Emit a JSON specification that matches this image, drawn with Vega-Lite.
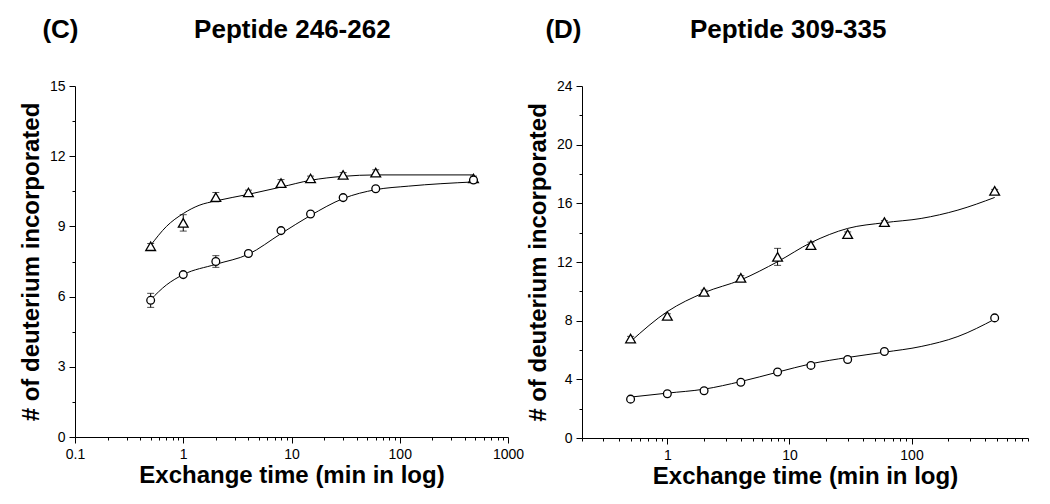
{
 "$schema": "https://vega.github.io/schema/vega-lite/v6.json",
 "padding": {"left": 19, "top": 17, "right": 5, "bottom": 5},
 "autosize": {"type": "pad"},
 "background": "white",
 "config": {
  "font": "Liberation Sans",
  "view": {"stroke": null},
  "axis": {"domainColor": "black", "tickColor": "black", "labelColor": "black", "titleColor": "black", "labelFont": "Liberation Sans", "titleFont": "Liberation Sans", "labelFontSize": 14, "titleFontSize": 24, "titleFontWeight": "bold", "grid": false, "labelPadding": 4, "tickWidth": 1, "domainWidth": 1, "labelOverlap": false, "labelFlush": false},
  "title": {"font": "Liberation Sans", "fontSize": 26, "fontWeight": "bold", "color": "black", "anchor": "start", "frame": "bounds", "baseline": "alphabetic", "offset": 36}
 },
 "spacing": 2,
 "datasets": {
  "c_pts": [
   {"t": 0.5, "d": 8.15, "err": 0.12, "s": "A"},
   {"t": 1, "d": 9.15, "err": 0.35, "s": "A"},
   {"t": 2, "d": 10.25, "err": 0.2, "s": "A"},
   {"t": 4, "d": 10.45, "err": 0.1, "s": "A"},
   {"t": 8, "d": 10.85, "err": 0.15, "s": "A"},
   {"t": 15, "d": 11.05, "err": 0.1, "s": "A"},
   {"t": 30, "d": 11.2, "err": 0.1, "s": "A"},
   {"t": 60, "d": 11.3, "err": 0.12, "s": "A"},
   {"t": 480, "d": 11.05, "err": 0.1, "s": "A"},
   {"t": 0.5, "d": 5.84, "err": 0.3, "s": "B"},
   {"t": 1, "d": 6.94, "err": 0.08, "s": "B"},
   {"t": 2, "d": 7.5, "err": 0.25, "s": "B"},
   {"t": 4, "d": 7.84, "err": 0.08, "s": "B"},
   {"t": 8, "d": 8.82, "err": 0.08, "s": "B"},
   {"t": 15, "d": 9.53, "err": 0.08, "s": "B"},
   {"t": 30, "d": 10.23, "err": 0.08, "s": "B"},
   {"t": 60, "d": 10.61, "err": 0.08, "s": "B"},
   {"t": 480, "d": 10.98, "err": 0.1, "s": "B"}
  ],
  "c_fit": [
   {"t": 0.5, "d": 8.19, "s": "A"},
   {"t": 0.7, "d": 9.0, "s": "A"},
   {"t": 1, "d": 9.55, "s": "A"},
   {"t": 1.4, "d": 9.9, "s": "A"},
   {"t": 2, "d": 10.09, "s": "A"},
   {"t": 4, "d": 10.37, "s": "A"},
   {"t": 8, "d": 10.68, "s": "A"},
   {"t": 15, "d": 10.97, "s": "A"},
   {"t": 30, "d": 11.14, "s": "A"},
   {"t": 60, "d": 11.2, "s": "A"},
   {"t": 480, "d": 11.2, "s": "A"},
   {"t": 0.5, "d": 5.87, "s": "B"},
   {"t": 0.7, "d": 6.5, "s": "B"},
   {"t": 1, "d": 6.94, "s": "B"},
   {"t": 2, "d": 7.38, "s": "B"},
   {"t": 4, "d": 7.81, "s": "B"},
   {"t": 8, "d": 8.69, "s": "B"},
   {"t": 15, "d": 9.47, "s": "B"},
   {"t": 30, "d": 10.19, "s": "B"},
   {"t": 60, "d": 10.57, "s": "B"},
   {"t": 120, "d": 10.72, "s": "B"},
   {"t": 480, "d": 10.9, "s": "B"}
  ],
  "d_pts": [
   {"t": 0.5, "d": 6.78, "err": 0.15, "s": "A"},
   {"t": 1, "d": 8.32, "err": 0.15, "s": "A"},
   {"t": 2, "d": 9.96, "err": 0.12, "s": "A"},
   {"t": 4, "d": 10.92, "err": 0.15, "s": "A"},
   {"t": 8, "d": 12.35, "err": 0.58, "s": "A"},
   {"t": 15, "d": 13.15, "err": 0.2, "s": "A"},
   {"t": 30, "d": 13.9, "err": 0.15, "s": "A"},
   {"t": 60, "d": 14.72, "err": 0.1, "s": "A"},
   {"t": 480, "d": 16.85, "err": 0.1, "s": "A"},
   {"t": 0.5, "d": 2.65, "err": 0.08, "s": "B"},
   {"t": 1, "d": 3.02, "err": 0.1, "s": "B"},
   {"t": 2, "d": 3.22, "err": 0.1, "s": "B"},
   {"t": 4, "d": 3.8, "err": 0.1, "s": "B"},
   {"t": 8, "d": 4.5, "err": 0.1, "s": "B"},
   {"t": 15, "d": 4.95, "err": 0.12, "s": "B"},
   {"t": 30, "d": 5.35, "err": 0.1, "s": "B"},
   {"t": 60, "d": 5.9, "err": 0.12, "s": "B"},
   {"t": 480, "d": 8.19, "err": 0.1, "s": "B"}
  ],
  "d_fit": [
   {"t": 0.5, "d": 6.58, "s": "A"},
   {"t": 1, "d": 8.62, "s": "A"},
   {"t": 2, "d": 9.91, "s": "A"},
   {"t": 4, "d": 10.78, "s": "A"},
   {"t": 8, "d": 12.02, "s": "A"},
   {"t": 15, "d": 13.32, "s": "A"},
   {"t": 30, "d": 14.29, "s": "A"},
   {"t": 60, "d": 14.68, "s": "A"},
   {"t": 120, "d": 14.97, "s": "A"},
   {"t": 240, "d": 15.54, "s": "A"},
   {"t": 480, "d": 16.4, "s": "A"},
   {"t": 0.5, "d": 2.79, "s": "B"},
   {"t": 1, "d": 3.06, "s": "B"},
   {"t": 2, "d": 3.33, "s": "B"},
   {"t": 4, "d": 3.85, "s": "B"},
   {"t": 8, "d": 4.49, "s": "B"},
   {"t": 15, "d": 5.06, "s": "B"},
   {"t": 30, "d": 5.49, "s": "B"},
   {"t": 60, "d": 5.85, "s": "B"},
   {"t": 120, "d": 6.24, "s": "B"},
   {"t": 240, "d": 6.92, "s": "B"},
   {"t": 480, "d": 8.1, "s": "B"}
  ]
 },
 "hconcat": [
  {
   "width": 433,
   "height": 351,
   "title": {"text": "(C)\u00a0\u00a0\u00a0\u00a0\u00a0\u00a0\u00a0\u00a0\u00a0\u00a0\u00a0\u00a0\u00a0\u00a0\u00a0\u00a0Peptide 246-262", "dx": 23},
   "encoding": {
    "x": {"field": "t", "type": "quantitative",
     "scale": {"type": "log", "domain": [0.1, 1000], "nice": false},
     "axis": {"title": "Exchange time (min in log)", "titlePadding": 2,
      "values": [0.1,0.2,0.3,0.4,0.5,0.6,0.7,0.8,0.9,1,2,3,4,5,6,7,8,9,10,20,30,40,50,60,70,80,90,100,200,300,400,500,600,700,800,900,1000],
      "labelExpr": "abs(log(datum.value)/LN10 - round(log(datum.value)/LN10)) < 0.001 ? format(datum.value, '~g') : ''",
      "tickSize": {"condition": {"test": "abs(log(datum.value)/LN10 - round(log(datum.value)/LN10)) < 0.001", "value": 6}, "value": 3}}},
    "y": {"field": "d", "type": "quantitative",
     "scale": {"domain": [0, 15], "nice": false, "zero": false},
     "axis": {"title": "# of deuterium incorporated", "titlePadding": 6,
      "values": [0,1.5,3,4.5,6,7.5,9,10.5,12,13.5,15],
      "labelExpr": "datum.value % 3 == 0 ? format(datum.value, '~g') : ''",
      "tickSize": {"condition": {"test": "datum.value % 3 == 0", "value": 6}, "value": 3}}}
   },
   "layer": [
    {"data": {"name": "c_fit"}, "mark": {"type": "line", "interpolate": "monotone", "color": "black", "strokeWidth": 1}, "encoding": {"detail": {"field": "s"}}},
    {"data": {"name": "c_pts"}, "mark": {"type": "errorbar", "ticks": {"size": 7}, "color": "black", "thickness": 1}, "encoding": {"yError": {"field": "err"}}},
    {"data": {"name": "c_pts"}, "mark": {"type": "point", "filled": true, "fill": "white", "stroke": "black", "strokeWidth": 1.3, "opacity": 1},
     "encoding": {"shape": {"field": "s", "scale": {"domain": ["A", "B"], "range": ["triangle-up", "circle"]}, "legend": null},
      "size": {"field": "s", "type": "nominal", "scale": {"domain": ["A", "B"], "range": [95, 60]}, "legend": null}}}
   ]
  },
  {
   "width": 446,
   "height": 352,
   "title": {"text": "(D)\u00a0\u00a0\u00a0\u00a0\u00a0\u00a0\u00a0\u00a0\u00a0\u00a0\u00a0\u00a0\u00a0\u00a0\u00a0Peptide 309-335", "dx": 19},
   "encoding": {
    "x": {"field": "t", "type": "quantitative",
     "scale": {"type": "log", "domain": [0.2, 900], "nice": false},
     "axis": {"title": "Exchange time (min in log)", "titlePadding": 2,
      "values": [0.2,0.3,0.4,0.5,0.6,0.7,0.8,0.9,1,2,3,4,5,6,7,8,9,10,20,30,40,50,60,70,80,90,100,200,300,400,500,600,700,800,900],
      "labelExpr": "abs(log(datum.value)/LN10 - round(log(datum.value)/LN10)) < 0.001 ? format(datum.value, '~g') : ''",
      "tickSize": {"condition": {"test": "abs(log(datum.value)/LN10 - round(log(datum.value)/LN10)) < 0.001", "value": 6}, "value": 3}}},
    "y": {"field": "d", "type": "quantitative",
     "scale": {"domain": [0, 24], "nice": false, "zero": false},
     "axis": {"title": "# of deuterium incorporated", "titlePadding": 6,
      "values": [0,2,4,6,8,10,12,14,16,18,20,22,24],
      "labelExpr": "datum.value % 4 == 0 ? format(datum.value, '~g') : ''",
      "tickSize": {"condition": {"test": "datum.value % 4 == 0", "value": 6}, "value": 3}}}
   },
   "layer": [
    {"data": {"name": "d_fit"}, "mark": {"type": "line", "interpolate": "monotone", "color": "black", "strokeWidth": 1}, "encoding": {"detail": {"field": "s"}}},
    {"data": {"name": "d_pts"}, "mark": {"type": "errorbar", "ticks": {"size": 7}, "color": "black", "thickness": 1}, "encoding": {"yError": {"field": "err"}}},
    {"data": {"name": "d_pts"}, "mark": {"type": "point", "filled": true, "fill": "white", "stroke": "black", "strokeWidth": 1.3, "opacity": 1},
     "encoding": {"shape": {"field": "s", "scale": {"domain": ["A", "B"], "range": ["triangle-up", "circle"]}, "legend": null},
      "size": {"field": "s", "type": "nominal", "scale": {"domain": ["A", "B"], "range": [95, 60]}, "legend": null}}}
   ]
  }
 ]
}
